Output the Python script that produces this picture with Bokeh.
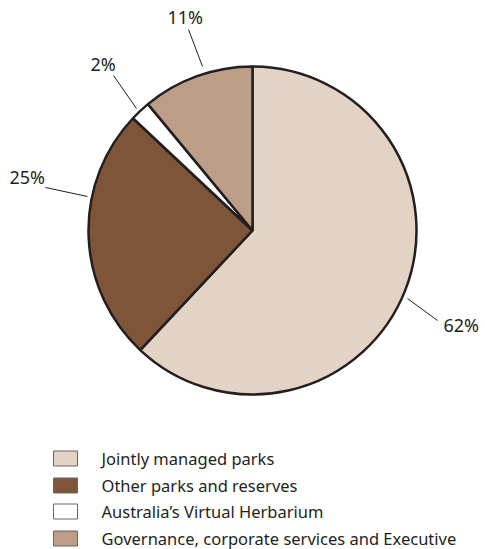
from bokeh.plotting import figure
from bokeh.models import Range1d, ColumnDataSource
from bokeh.embed import file_html
from bokeh.resources import INLINE
from bokeh.core.properties import value
import numpy as np

categories = ["Jointly managed parks", "Other parks and reserves",
              "Australia\u2019s Virtual Herbarium",
              "Governance, corporate services and Executive"]
shares = [62, 25, 2, 11]
pct_labels = ["62%", "25%", "2%", "11%"]
colors = ["#E2D3C5", "#7F5539", "#FFFFFF", "#BC9D88"]

# layout (screen coordinates of the 485x549 picture)
W, H = 485, 549
def sy(y):
    return H - y

cx, cy, R = 252, 230, 164
FONT = "Noto Sans"
INK = "#231F20"

p = figure(width=W, height=H, output_backend="svg", toolbar_location=None,
           x_range=Range1d(0, W), y_range=Range1d(0, H),
           min_border=0)
p.axis.visible = False
p.grid.visible = False
p.outline_line_color = None
p.background_fill_color = "white"
p.border_fill_color = "white"

frac = np.array(shares, dtype=float) / sum(shares)
c1 = np.cumsum(frac)
c0 = c1 - frac
start = np.pi / 2 - 2 * np.pi * c0
end = np.pi / 2 - 2 * np.pi * c1
src = ColumnDataSource(dict(start=start, end=end, color=colors))
p.wedge(x=cx, y=sy(cy), radius=R, radius_units="screen", start_angle="start",
        end_angle="end", direction="clock", fill_color="color",
        line_color=INK, line_width=2.5, source=src)

# leader lines and labels
leaders = [((407, 298), (437, 320)), ((87, 196), (45, 187)),
           ((136, 108), (113, 75)), ((202, 66), (188, 29))]
label_pos = [(443, 324), (9, 176), (90, 63), (167, 16)]
for (a, b), (tx, ty), lab in zip(leaders, label_pos, pct_labels):
    p.line([a[0], b[0]], [sy(a[1]), sy(b[1])], line_color=INK, line_width=1)
    p.text(x=[tx], y=[sy(ty)], text=[lab], text_font=value(FONT),
           text_font_size="18px", text_color=INK, text_baseline="middle",
           text_align="left")

# legend
rows_y = [458, 485, 511, 538]
lsrc = ColumnDataSource(dict(x=[65] * 4, y=[sy(v) for v in rows_y],
                             color=colors, text=categories,
                             tx=[101] * 4))
p.rect(x="x", y="y", width=24, height=15, width_units="screen",
       height_units="screen", fill_color="color", line_color="#6d6466",
       line_width=1, source=lsrc)
p.text(x="tx", y="y", text="text", text_font=value(FONT),
       text_font_size="16.5px", text_color=INK, text_baseline="middle",
       text_align="left", source=lsrc)

open("out.html", "w").write(file_html(p, INLINE))
